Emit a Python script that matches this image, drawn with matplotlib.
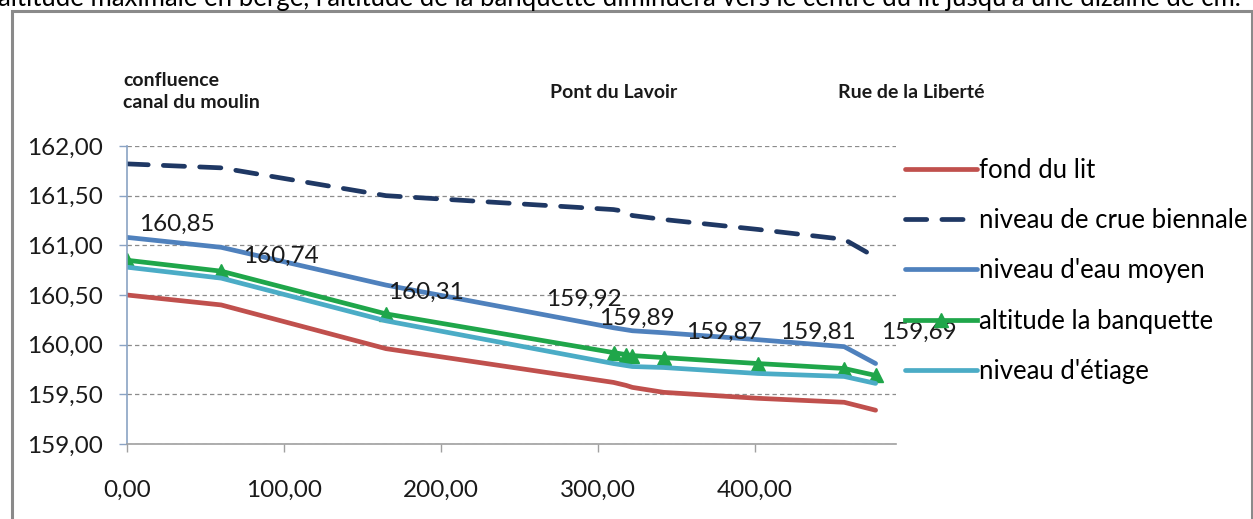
import matplotlib
matplotlib.use("Agg")
import matplotlib.pyplot as plt
from matplotlib.patches import Rectangle

# ---- data ----
distance = [0, 60, 165, 310, 318, 322, 342, 402, 457, 477]
fond_du_lit = [160.50, 160.40, 159.96, 159.62, 159.59, 159.57, 159.52, 159.46, 159.42, 159.34]
crue_biennale = [161.82, 161.78, 161.50, 161.36, 161.34, 161.30, 161.26, 161.16, 161.06, 160.88]
eau_moyen = [161.08, 160.98, 160.60, 160.17, 160.15, 160.14, 160.12, 160.05, 159.98, 159.81]
banquette = [160.85, 160.74, 160.31, 159.92, 159.90, 159.89, 159.87, 159.81, 159.76, 159.69]
etiage = [160.78, 160.67, 160.24, 159.81, 159.79, 159.78, 159.77, 159.71, 159.68, 159.61]

# data labels: (index into series, offset in px (dx, dy upward))
label_idx = [0, 1, 2, 3, 5, 6, 7, 9]
label_off_px = [(50, 36), (60, 15), (40, 22), (-30, 53), (5, 37), (60, 25), (60, 31), (43, 43)]

places = ["confluence\ncanal du moulin", "Pont du Lavoir", "Rue de la Liberté"]

W, H = 1253, 519
fig = plt.figure(figsize=(W / 100, H / 100), dpi=100)
fig.patch.set_facecolor("white")
FONT = "Lato"
plt.rcParams["font.family"] = [FONT, "DejaVu Sans"]

def fx(px):
    return px / W

def fy(py):
    return 1 - py / H

# cropped document text at very top
fig.text(fx(-2), fy(6), "altitude maximale en berge, l'altitude de la banquette diminuera vers le centre du lit jusqu'à une dizaine de cm.",
         fontsize=18.5, va="baseline", ha="left", color="black")

# chart frame
fig.patches.append(Rectangle((fx(12), fy(530)), fx(1252) - fx(12), fy(11) - fy(530),
                             transform=fig.transFigure, fill=False, edgecolor="#8a8a8a", linewidth=2.2))

ax = fig.add_axes([fx(127), fy(444), fx(896) - fx(127), fy(146) - fy(444)])
ax.set_xlim(0, 490)
ax.set_ylim(159, 162)

ax.set_yticks([159, 159.5, 160, 160.5, 161, 161.5, 162])
ax.set_xticks([0, 100, 200, 300, 400])
ax.set_yticklabels([f"{v:.2f}".replace(".", ",") for v in ax.get_yticks()])
ax.set_xticklabels([f"{v:.2f}".replace(".", ",") for v in ax.get_xticks()])
ax.tick_params(axis="y", length=5.5, width=1, color="#8aa3c4", pad=12, labelsize=17.5, labelcolor="#1a1a1a")
ax.tick_params(axis="x", length=6, width=1, color="#a0a0a0", pad=20, labelsize=17.5, labelcolor="#1a1a1a")

for s in ["top", "right"]:
    ax.spines[s].set_visible(False)
ax.spines["left"].set_color("#8aa3c4")
ax.spines["left"].set_linewidth(1.2)
ax.spines["bottom"].set_color("#a0a0a0")
ax.spines["bottom"].set_linewidth(1.2)

ax.yaxis.grid(True, linestyle=(0, (3.5, 2.5)), color="#8c8c8c", linewidth=0.9)
ax.set_axisbelow(True)

lw = 3.4
ax.plot(distance, fond_du_lit, color="#C0504D", lw=lw, label="fond du lit", solid_capstyle="round")
ax.plot(distance, crue_biennale, color="#1F3864", lw=lw, linestyle=(0, (4.5, 3.2)),
        dash_capstyle="round", label="niveau de crue biennale")
ax.plot(distance, eau_moyen, color="#4F81BD", lw=lw, label="niveau d'eau moyen", solid_capstyle="round")
ax.plot(distance, banquette, color="#1FA64A", lw=lw, marker="^", markersize=10,
        markerfacecolor="#1FA64A", markeredgecolor="#1FA64A", label="altitude la banquette")
ax.plot(distance, etiage, color="#4BACC6", lw=lw, label="niveau d'étiage", solid_capstyle="round")

for i, (dx, dy) in zip(label_idx, label_off_px):
    ax.annotate(f"{banquette[i]:.2f}".replace(".", ","), (distance[i], banquette[i]),
                xytext=(dx * 0.72, dy * 0.72), textcoords="offset points",
                ha="center", va="center", fontsize=17.5, color="#1a1a1a")

# place names above the plot
fig.text(fx(123), fy(80), places[0].split("\n")[0], fontsize=14, fontweight="bold", ha="left", va="center", color="#1a1a1a")
fig.text(fx(123), fy(103), places[0].split("\n")[1], fontsize=14, fontweight="bold", ha="left", va="center", color="#1a1a1a")
fig.text(fx(550), fy(92), places[1], fontsize=14, fontweight="bold", ha="left", va="center", color="#1a1a1a")
fig.text(fx(838), fy(92), places[2], fontsize=14, fontweight="bold", ha="left", va="center", color="#1a1a1a")

handles, labels = ax.get_legend_handles_labels()
leg = fig.legend(handles, labels, loc="upper left", bbox_to_anchor=(fx(905), fy(158)),
                 frameon=False, fontsize=18.5, handlelength=2.8, handletextpad=0.08,
                 labelspacing=0.98, borderaxespad=0, borderpad=0)

fig.savefig("out.png", dpi=100, facecolor="white")
